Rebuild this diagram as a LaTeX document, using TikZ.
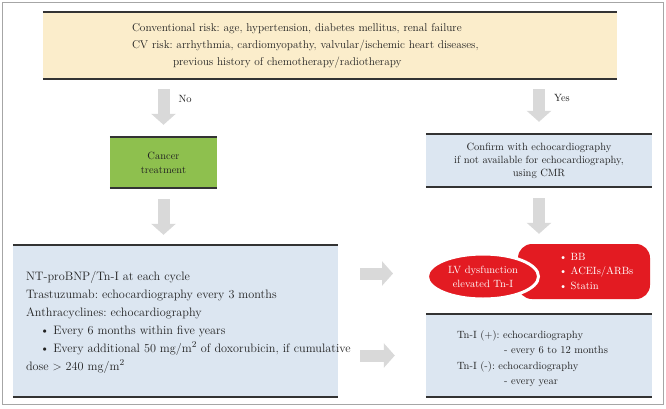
\documentclass[tikz,border=0pt]{standalone}
\usetikzlibrary{shapes.geometric,arrows.meta}
\definecolor{riskfill}{HTML}{FBEDCB}
\definecolor{cancerfill}{HTML}{8EC04E}
\definecolor{bluefill}{HTML}{DCE6F1}
\definecolor{redfill}{HTML}{E31B22}
\definecolor{arrowgray}{HTML}{D9D9D9}
\definecolor{rulegray}{HTML}{333333}
\definecolor{framegray}{HTML}{A6A6A6}
\definecolor{textgray}{HTML}{222222}
\frenchspacing

\begin{document}
\begin{tikzpicture}[
    x=1pt, y=-1pt,
    every node/.style={font=\fontsize{10.5}{17}\selectfont, inner sep=0pt, text=textgray},
    box/.style={fill=#1, draw=none, align=center},
    rule/.style={draw=rulegray, line width=1.5pt},
    bigarrow/.style={draw=arrowgray, line width=12pt, -{Triangle[length=11pt, width=24pt]}},
    lbl/.style={right, inner sep=3pt},
    redbox/.style={fill=redfill, draw=none, text=white},
  ]
  \useasboundingbox (0,0) rectangle (666,408);
  \draw[framegray, line width=1pt] (2.5,2.5) rectangle (663.5,404.5);

  % boxes
  \node[box=riskfill, minimum width=574pt, minimum height=67pt, text width=396pt,
        inner xsep=89pt, align=left, font=\fontsize{11.3}{17}\selectfont] (risk) at (330,45.5)
    {Conventional risk: age, hypertension, diabetes mellitus, renal failure\\
     CV risk: arrhythmia, cardiomyopathy, valvular/ischemic heart diseases,\\
     \hspace*{41pt}previous history of chemotherapy/radiotherapy};
  \node[box=cancerfill, minimum width=107pt, minimum height=51pt,
        font=\fontsize{10.5}{14}\selectfont] (cancer) at (163.5,162.5)
    {Cancer\\treatment};
  \node[box=bluefill, minimum width=226pt, minimum height=53pt,
        font=\fontsize{10.5}{13}\selectfont] (confirm) at (539,160.5)
    {Confirm with echocardiography\\
     if not available for echocardiography,\\
     using CMR};
  \node[box=bluefill, minimum width=325pt, minimum height=152pt] (monitor) at (175.5,321) {};
  \node[anchor=west, align=left, font=\fontsize{12.2}{18}\selectfont] (monitortxt)
    at ([xshift=13pt, yshift=-1pt]monitor.west)
    {NT-proBNP/Tn-I at each cycle\\
     Trastuzumab: echocardiography every 3 months\\
     Anthracyclines: echocardiography\\
     \hspace*{14pt}\textbullet\ Every 6 months within five years\\
     \hspace*{14pt}\textbullet\ Every additional 50 mg/m$^{2}$ of doxorubicin, if cumulative\\
     dose $>$ 240 mg/m$^{2}$};
  \node[box=bluefill, minimum width=226pt, minimum height=83pt] (followup) at (539,355.5) {};
  \node[anchor=west, align=left, font=\fontsize{10.5}{15.5}\selectfont] (followtxt)
    at ([xshift=31pt, yshift=-3pt]followup.west)
    {Tn-I (+): echocardiography\\
     \hspace*{47pt}- every 6 to 12 months\\
     Tn-I (-): echocardiography\\
     \hspace*{47pt}- every year};

  \foreach \n in {risk,cancer,confirm,monitor,followup}
    \draw[rule] (\n.north west) -- (\n.north east) (\n.south west) -- (\n.south east);

  % red shape
  \node[redbox, rounded corners=14pt, minimum width=132pt, minimum height=55pt] (therapy) at (584,271.5) {};
  \node[redbox, ellipse, draw=white, line width=3pt, minimum width=111pt, minimum height=45pt,
        align=center, font=\fontsize{10.5}{14}\selectfont] (lv) at (483,276.5)
    {LV dysfunction\\elevated Tn-I};
  \node[text=white, anchor=west, align=left, font=\fontsize{10.5}{14.5}\selectfont] (drugs)
    at ([xshift=41pt]therapy.west)
    {\textbullet\ BB\\ \textbullet\ ACEIs/ARBs\\ \textbullet\ Statin};

  % arrows
  \draw[bigarrow] ([yshift=-10pt]risk.south -| cancer.north) -- ([yshift=12pt]cancer.north)
    node[lbl, pos=0.28, xshift=6pt] {No};
  \draw[bigarrow] ([yshift=-10pt]risk.south -| confirm.north) -- ([yshift=12pt]confirm.north)
    node[lbl, pos=0.28, xshift=6pt] {Yes};
  \draw[bigarrow] ([yshift=-11pt]cancer.south) -- ([yshift=10pt]monitor.north -| cancer.south);
  \draw[bigarrow] ([yshift=-11pt]confirm.south) -- ([yshift=10pt]therapy.north -| confirm.south);
  \draw[bigarrow] ([xshift=22pt, yshift=3pt]monitor.east |- lv.west) -- ([xshift=-33pt, yshift=3pt]lv.west);
  \draw[bigarrow] ([xshift=22pt]monitor.east |- followup.west) -- ([xshift=-31pt]followup.west);
\end{tikzpicture}
\end{document}
